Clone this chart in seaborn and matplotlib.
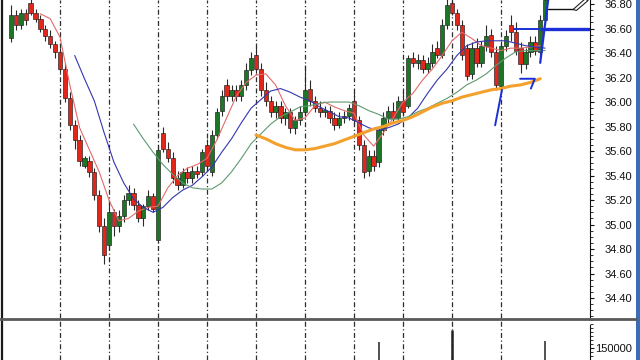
import numpy as np
import pandas as pd
import matplotlib
matplotlib.use("Agg")
import matplotlib.pyplot as plt
import seaborn as sns
from matplotlib.lines import Line2D
from matplotlib.patches import Rectangle, Polygon
from matplotlib.ticker import MultipleLocator, FixedLocator

# ---------------- data ----------------
opens = [36.52, 36.71, 36.63, 36.73, 36.81, 36.73, 36.68, 36.60, 36.54, 36.47,
         36.41, 36.27, 36.03, 35.81, 35.69, 35.48, 35.52, 35.43, 35.24, 34.99,
         34.83, 35.10, 34.99, 35.07, 35.20, 35.26, 35.16, 35.05, 35.15, 35.23,
         34.87, 35.75, 35.62, 35.54, 35.38, 35.32, 35.43, 35.38, 35.44, 35.43,
         35.65, 35.43, 35.73, 35.93, 36.14, 36.05, 36.10, 36.05, 36.14, 36.26,
         36.38, 36.27, 36.10, 36.01, 35.92, 35.97, 35.87, 35.92, 35.79, 35.85,
         35.92, 36.11, 36.01, 35.95, 35.92, 35.93, 35.87, 35.81, 35.87, 35.89,
         36.01, 35.85, 35.65, 35.44, 35.56, 35.51, 35.77, 35.87, 35.93, 35.87,
         36.01, 35.97, 36.36, 36.32, 36.34, 36.27, 36.32, 36.44, 36.38, 36.63,
         36.81, 36.73, 36.63, 36.44, 36.23, 36.44, 36.32, 36.46, 36.55, 36.41,
         36.13, 36.46, 36.63, 36.57, 36.44, 36.31, 36.41, 36.49, 36.41, 36.67]
closes = [36.71, 36.63, 36.73, 36.67, 36.73, 36.68, 36.60, 36.54, 36.47, 36.41,
          36.27, 36.03, 35.81, 35.69, 35.52, 35.54, 35.43, 35.24, 34.99, 34.75,
          35.10, 34.99, 35.07, 35.20, 35.26, 35.16, 35.05, 35.15, 35.23, 35.13,
          35.61, 35.62, 35.54, 35.38, 35.32, 35.43, 35.38, 35.44, 35.41, 35.59,
          35.48, 35.73, 35.92, 36.05, 36.05, 36.10, 36.05, 36.14, 36.26, 36.36,
          36.27, 36.10, 36.01, 35.92, 35.97, 35.87, 35.92, 35.79, 35.85, 35.92,
          36.10, 36.01, 35.95, 35.92, 35.93, 35.87, 35.81, 35.87, 35.89, 35.95,
          35.85, 35.65, 35.43, 35.56, 35.48, 35.77, 35.87, 35.93, 35.87, 36.01,
          35.92, 36.36, 36.32, 36.34, 36.27, 36.32, 36.41, 36.38, 36.63, 36.79,
          36.73, 36.63, 36.38, 36.21, 36.44, 36.32, 36.46, 36.54, 36.41, 36.14,
          36.46, 36.54, 36.57, 36.42, 36.31, 36.41, 36.49, 36.42, 36.67, 36.83]
highs = [36.79, 36.75, 36.76, 36.76, 36.85, 36.76, 36.71, 36.63, 36.59, 36.50,
         36.44, 36.32, 36.08, 35.85, 35.73, 35.56, 35.56, 35.46, 35.28, 35.05,
         35.20, 35.13, 35.12, 35.24, 35.32, 35.30, 35.20, 35.17, 35.28, 35.26,
         35.65, 35.80, 35.67, 35.59, 35.44, 35.46, 35.47, 35.48, 35.48, 35.62,
         35.70, 35.77, 35.95, 36.10, 36.19, 36.14, 36.14, 36.18, 36.32, 36.41,
         36.45, 36.32, 36.16, 36.05, 36.01, 36.01, 35.95, 35.95, 35.89, 35.97,
         36.30, 36.18, 36.05, 36.01, 35.97, 35.97, 35.92, 35.92, 35.93, 35.98,
         36.08, 35.89, 35.69, 35.61, 35.61, 35.79, 35.92, 35.97, 36.00, 36.05,
         36.08, 36.38, 36.41, 36.39, 36.38, 36.37, 36.47, 36.50, 36.68, 36.85,
         36.87, 36.76, 36.67, 36.47, 36.49, 36.52, 36.50, 36.63, 36.60, 36.46,
         36.50, 36.59, 36.71, 36.65, 36.49, 36.44, 36.54, 36.54, 36.71, 36.87]
lows = [36.49, 36.59, 36.60, 36.63, 36.71, 36.65, 36.57, 36.50, 36.44, 36.36,
        36.24, 36.00, 35.77, 35.62, 35.48, 35.46, 35.39, 35.20, 34.94, 34.68,
        34.79, 34.91, 34.94, 35.02, 35.16, 35.12, 35.02, 34.99, 35.12, 35.10,
        34.85, 35.59, 35.51, 35.34, 35.28, 35.30, 35.34, 35.34, 35.38, 35.40,
        35.44, 35.40, 35.70, 35.89, 36.01, 36.01, 36.01, 36.01, 36.10, 36.22,
        36.24, 36.05, 35.97, 35.88, 35.87, 35.83, 35.81, 35.75, 35.74, 35.81,
        35.89, 35.97, 35.92, 35.88, 35.88, 35.83, 35.77, 35.79, 35.83, 35.85,
        35.81, 35.61, 35.38, 35.40, 35.44, 35.47, 35.73, 35.82, 35.83, 35.83,
        35.89, 35.95, 36.29, 36.27, 36.24, 36.24, 36.29, 36.36, 36.36, 36.60,
        36.71, 36.59, 36.34, 36.18, 36.19, 36.29, 36.29, 36.42, 36.37, 36.10,
        36.10, 36.42, 36.50, 36.38, 36.24, 36.27, 36.37, 36.38, 36.38, 36.65]

# moving averages (sampled every second bar)
red_idx = list(range(6, 109, 2))
red_ma = [36.72, 36.68, 36.53, 36.14, 35.79, 35.61, 35.43, 35.20, 35.03, 35.05,
          35.11, 35.14, 35.15, 35.30, 35.40, 35.46, 35.49, 35.54, 35.69, 35.87,
          36.05, 36.16, 36.22, 36.23, 36.14, 35.97, 35.85, 35.87, 35.97, 36.00,
          35.96, 35.93, 35.91, 35.73, 35.64, 35.75, 35.87, 36.00, 36.07, 36.18,
          36.27, 36.38, 36.50, 36.57, 36.52, 36.46, 36.44, 36.42, 36.44, 36.44,
          36.45, 36.46]
blue_idx = list(range(13, 110, 2))
blue_ma = [36.38, 36.19, 36.01, 35.75, 35.51, 35.34, 35.21, 35.14, 35.10, 35.14,
           35.22, 35.28, 35.32, 35.39, 35.47, 35.59, 35.70, 35.83, 35.95, 36.02,
           36.09, 36.11, 36.08, 36.04, 36.01, 35.96, 35.92, 35.88, 35.87, 35.83,
           35.79, 35.77, 35.79, 35.82, 35.87, 35.95, 36.07, 36.18, 36.27, 36.38,
           36.46, 36.49, 36.50, 36.50, 36.50, 36.48, 36.46, 36.45, 36.44]
green_idx = list(range(25, 110, 2))
green_ma = [35.82, 35.70, 35.59, 35.49, 35.41, 35.34, 35.30, 35.29, 35.29, 35.34,
            35.43, 35.54, 35.66, 35.74, 35.82, 35.88, 35.92, 35.96, 35.97, 35.99,
            36.00, 36.00, 36.00, 35.97, 35.93, 35.90, 35.86, 35.86, 35.88, 35.92,
            35.95, 35.99, 36.03, 36.08, 36.14, 36.18, 36.23, 36.30, 36.36, 36.41,
            36.42, 36.42, 36.42]
orange_idx = list(range(50, 110, 2))
orange_ma = [35.73, 35.70, 35.66, 35.63, 35.61, 35.61, 35.62, 35.64, 35.66, 35.69,
             35.72, 35.75, 35.78, 35.80, 35.83, 35.85, 35.88, 35.92, 35.96, 35.99,
             36.01, 36.04, 36.06, 36.08, 36.10, 36.11, 36.13, 36.14, 36.16, 36.19]

# visible volume spikes (rest of the volume pane is cut off)
vol_idx = [75, 90, 109]
vol_val = [165000, 195000, 167500]

price_ticks = [34.40, 34.60, 34.80, 35.00, 35.20, 35.40, 35.60, 35.80,
               36.00, 36.20, 36.40, 36.60, 36.80]
vol_ticks = [150000]
grid_idx = [10, 20, 30, 40, 50, 60, 70, 80, 90, 100]

# hand-drawn annotations (bar index, price)
ann_thin_x, ann_thin_y = [102.4, 108.0], [36.60, 36.60]
ann_thick_x, ann_thick_y = [108.0, 118.2], [36.60, 36.60]
ann_vert_x, ann_vert_y = [108.0, 109.7], [36.32, 36.86]
ann_slant_x, ann_slant_y = [98.8, 100.2], [35.81, 36.10]
ann_seven_x, ann_seven_y = [103.9, 106.9, 106.1], [36.19, 36.19, 36.11]
ann_black_x, ann_black_y = [109.6, 114.6], [36.76, 36.76]

# ---------------- drawing ----------------
sns.set_style("white")
plt.rcParams['font.family'] = ['Liberation Sans', 'DejaVu Sans']

W, H = 640, 360
fig = plt.figure(figsize=(6.4, 3.6), dpi=100)
fig.patch.set_facecolor('white')

def px_axes(l, t, r, b):
    return fig.add_axes([l / W, 1 - b / H, (r - l) / W, (b - t) / H])

ax = px_axes(2, 0, 590, 318)
axv = px_axes(2, 320, 590, 360)

x_left, x_right = -1.837, 118.163
for a in (ax, axv):
    a.set_xlim(x_left, x_right)
    a.set_facecolor('white')
    for k in grid_idx:
        a.axvline(k, color='#2e2e2e', lw=0.9, ls=(0, (4, 2, 1, 2)), zorder=1)
    a.set_xticks([])
    a.spines['top'].set_visible(False)
    a.spines['bottom'].set_visible(False)
    a.spines['left'].set_color('#1a1a1a')
    a.spines['left'].set_linewidth(1.6)
    a.spines['right'].set_color('#111111')
    a.spines['right'].set_linewidth(0.8)

ax.set_ylim(34.237, 36.833)

df = pd.DataFrame(dict(i=np.arange(len(closes)), o=opens, h=highs, l=lows, c=closes))
up = df.c >= df.o
red_c, green_c = '#e3261a', '#1d7626'
ax.vlines(df.i, df.l, df.h, color='#2a2a2a', lw=0.8, zorder=2)
ax.bar(df.i, (df.c - df.o).abs().clip(lower=0.012),
       bottom=df[['o', 'c']].min(axis=1), width=0.86,
       color=np.where(up, green_c, red_c), edgecolor='#1e1e1e',
       linewidth=0.45, zorder=3)

sns.lineplot(x=red_idx, y=red_ma, ax=ax, color='#e26a6a', lw=0.8, zorder=4)
sns.lineplot(x=blue_idx, y=blue_ma, ax=ax, color='#3535b0', lw=0.8, zorder=4)
sns.lineplot(x=green_idx, y=green_ma, ax=ax, color='#5f9a70', lw=0.8, zorder=4)
sns.lineplot(x=orange_idx, y=orange_ma, ax=ax, color='#f3a12c', lw=2.2, zorder=4)

blue_pen = '#1b2fd6'
ax.plot(ann_thin_x, ann_thin_y, color=blue_pen, lw=1.4, zorder=5, solid_capstyle='butt')
ax.plot(ann_thick_x, ann_thick_y, color=blue_pen, lw=2.4, zorder=5, solid_capstyle='butt')
ax.plot(ann_vert_x, ann_vert_y, color=blue_pen, lw=1.6, zorder=5)
ax.plot(ann_slant_x, ann_slant_y, color=blue_pen, lw=1.4, zorder=5)
ax.plot(ann_seven_x, ann_seven_y, color=blue_pen, lw=1.4, zorder=5)
ax.plot(ann_black_x, ann_black_y, color='#111111', lw=1.0, zorder=5)
ax.add_patch(Polygon([(114.7, 36.755), (115.4, 36.748), (117.8, 36.83), (117.1, 36.84)],
                     closed=True, facecolor='white', edgecolor='#222222', lw=0.8,
                     zorder=6, clip_on=False))

# price axis on the right
ax.yaxis.tick_right()
ax.yaxis.set_major_locator(FixedLocator(price_ticks))
ax.set_yticklabels([f"{v:.2f}" for v in price_ticks])
ax.yaxis.set_minor_locator(MultipleLocator(0.05))
ax.tick_params(axis='y', which='major', length=3, width=0.8, pad=27.5,
               labelsize=8, colors='#111111', direction='out', right=True, left=False)
ax.tick_params(axis='y', which='minor', length=1.8, width=0.6, colors='#111111',
               right=True, left=False)
plt.setp(ax.get_yticklabels(), ha='right')
ax.set_ylabel('')

# volume pane
axv.vlines(vol_idx, 0, vol_val, color='#222222', lw=[1.1, 1.8, 1.1], zorder=3)
axv.set_ylim(120000, 220000)
axv.yaxis.tick_right()
axv.yaxis.set_major_locator(FixedLocator(vol_ticks))
axv.set_yticklabels([f"{v:d}" for v in vol_ticks])
axv.yaxis.set_minor_locator(MultipleLocator(10000))
axv.tick_params(axis='y', which='major', length=3, width=0.8, pad=27.5,
                labelsize=8, colors='#111111', direction='out', right=True, left=False)
axv.tick_params(axis='y', which='minor', length=1.8, width=0.6, colors='#111111',
                right=True, left=False)
plt.setp(axv.get_yticklabels(), ha='right')
axv.spines['right'].set_bounds(120000, 207500)

# pane separator and window edge
fig.add_artist(Line2D([0, 636 / W], [1 - 319 / H] * 2, transform=fig.transFigure,
                      color='#5a5a5a', lw=2.0))
fig.add_artist(Rectangle((636 / W, 0), 4 / W, 1, transform=fig.transFigure,
                         facecolor='#3d6db5', edgecolor='none'))

fig.savefig('out.png', dpi=100)
